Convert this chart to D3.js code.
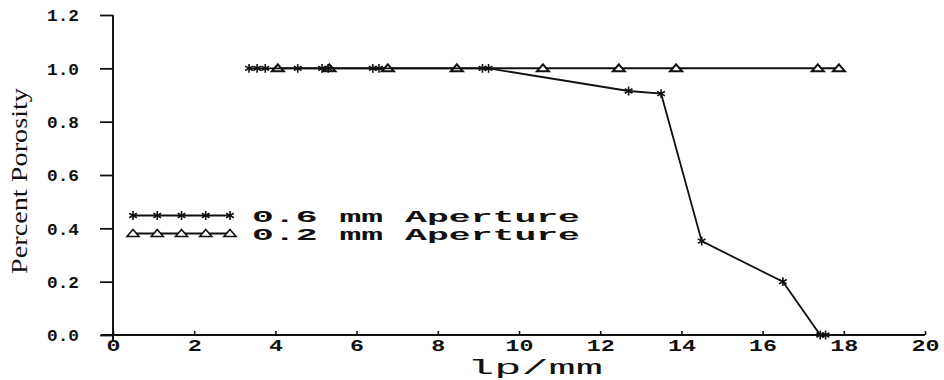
<!DOCTYPE html>
<html>
<head>
<meta charset="utf-8">
<script src="https://cdn.jsdelivr.net/npm/d3@7"></script>
<style>
  body { margin: 0; background: #fff; }
  svg { display: block; }
  text { font-family: "Liberation Mono", "DejaVu Sans Mono", monospace; fill: #111; }
</style>
</head>
<body>
<div id="chart"></div>
<script>
// data
var seriesNames = ["0.6  mm  Aperture", "0.2  mm  Aperture"];

// 0.6 mm aperture (asterisks)
var lp06 = [3.35, 3.55, 3.75, 4.55, 5.15, 5.3, 6.4, 6.55, 9.1, 9.25, 12.7, 13.5, 14.5, 16.5, 17.42, 17.55];
var por06 = [1, 1, 1, 1, 1, 1, 1, 1, 1, 1, 0.915, 0.905, 0.352, 0.2, 0, 0];

// 0.2 mm aperture (triangles)
var lp02 = [4.06, 5.33, 6.77, 8.47, 10.59, 12.46, 13.87, 17.36, 17.88];
var por02 = [1, 1, 1, 1, 1, 1, 1, 1, 1];

var xTicks = [0, 2, 4, 6, 8, 10, 12, 14, 16, 18, 20];
var yTicks = [0, 0.2, 0.4, 0.6, 0.8, 1.0, 1.2];

var W = 944, H = 380;
var plotL = 113, plotR = 925, plotT = 15, plotB = 335;

var svg = d3.select("#chart").append("svg")
    .attr("width", W)
    .attr("height", H);

var x = d3.scaleLinear().domain([0, 20]).range([plotL, plotR]);
var y = d3.scaleLinear().domain([0, 1.2]).range([plotB, plotT]);

// y axis
var yAxis = svg.append("g")
    .attr("transform", "translate(" + plotL + ",0)")
    .call(d3.axisLeft(y).tickValues(yTicks).tickSize(13).tickSizeOuter(0)
      .tickPadding(21).tickFormat(d3.format(".1f")));
yAxis.select(".domain").attr("stroke", "#111").attr("stroke-width", 2)
    .attr("d", "M0," + plotT + "V" + (plotB + 6));
yAxis.selectAll(".tick line").attr("stroke", "#111").attr("stroke-width", 1.8);
yAxis.selectAll(".tick text")
    .attr("font-size", 17).attr("font-weight", "bold")
    .attr("textLength", 32).attr("lengthAdjust", "spacingAndGlyphs")
    .attr("dy", "0.35em");

// x axis
var xAxis = svg.append("g")
    .attr("transform", "translate(0," + plotB + ")")
    .call(d3.axisBottom(x).tickValues(xTicks).tickSize(-4).tickSizeOuter(0).tickPadding(9));
xAxis.select(".domain").attr("stroke", "#111").attr("stroke-width", 2)
    .attr("d", "M" + (plotL - 12) + ",0H" + plotR);
xAxis.selectAll(".tick line").attr("stroke", "#111").attr("stroke-width", 1.6);
xAxis.selectAll(".tick text")
    .attr("font-size", 16).attr("font-weight", "bold")
    .attr("textLength", function(d) { return String(d).length * 14; })
    .attr("lengthAdjust", "spacingAndGlyphs")
    .attr("dy", "0.45em");

// axis titles
svg.append("text")
    .attr("x", 535).attr("y", 374)
    .attr("text-anchor", "middle")
    .attr("font-size", 21)
    .attr("textLength", 136).attr("lengthAdjust", "spacingAndGlyphs")
    .text("lp/mm");

svg.append("text")
    .attr("transform", "translate(27,181) rotate(-90)")
    .attr("text-anchor", "middle")
    .style("font-family", "'Liberation Serif', 'DejaVu Serif', serif")
    .attr("font-size", 23)
    .attr("textLength", 186).attr("lengthAdjust", "spacingAndGlyphs")
    .text("Percent Porosity");

var d06 = lp06.map(function(v, i) { return [v, por06[i]]; });
var d02 = lp02.map(function(v, i) { return [v, por02[i]]; });

var line = d3.line().x(function(d) { return x(d[0]); }).y(function(d) { return y(d[1]); });

var star = d3.symbol().type(d3.symbolAsterisk).size(55);
var tri = "M0,-4L6,3L-6,3Z";

// 0.2 mm series
svg.append("path").datum(d02)
    .attr("d", line).attr("fill", "none").attr("stroke", "#111").attr("stroke-width", 2);
svg.selectAll(".tri").data(d02).enter().append("path")
    .attr("class", "tri")
    .attr("transform", function(d) { return "translate(" + x(d[0]) + "," + y(d[1]) + ")"; })
    .attr("d", tri).attr("fill", "#fff").attr("stroke", "#111").attr("stroke-width", 2);

// 0.6 mm series
svg.append("path").datum(d06)
    .attr("d", line).attr("fill", "none").attr("stroke", "#111").attr("stroke-width", 1.8);
svg.selectAll(".star").data(d06).enter().append("path")
    .attr("class", "star")
    .attr("transform", function(d) { return "translate(" + x(d[0]) + "," + y(d[1]) + ")"; })
    .attr("d", star).attr("fill", "none").attr("stroke", "#111").attr("stroke-width", 1.6);

// legend
var legX0 = 131, legX1 = 232;
var legMarks = d3.range(5).map(function(i) { return legX0 + 2 + i * (legX1 - legX0 - 4) / 4; });
var legend = svg.append("g");
[0, 1].forEach(function(k) {
  var ly = 215.5 + k * 18;
  legend.append("line").attr("x1", legX0).attr("x2", legX1)
      .attr("y1", ly).attr("y2", ly).attr("stroke", "#111").attr("stroke-width", 1.8);
  legend.selectAll(".lm" + k).data(legMarks).enter().append("path")
      .attr("transform", function(d) { return "translate(" + d + "," + ly + ")"; })
      .attr("d", k === 0 ? star : tri)
      .attr("fill", k === 0 ? "none" : "#fff")
      .attr("stroke", "#111").attr("stroke-width", 1.6);
  legend.append("text")
      .attr("x", 252).attr("y", ly + 6)
      .attr("font-size", 17).attr("font-weight", "bold")
      .attr("textLength", 328).attr("lengthAdjust", "spacingAndGlyphs")
      .text(seriesNames[k]);
});
</script>
</body>
</html>
